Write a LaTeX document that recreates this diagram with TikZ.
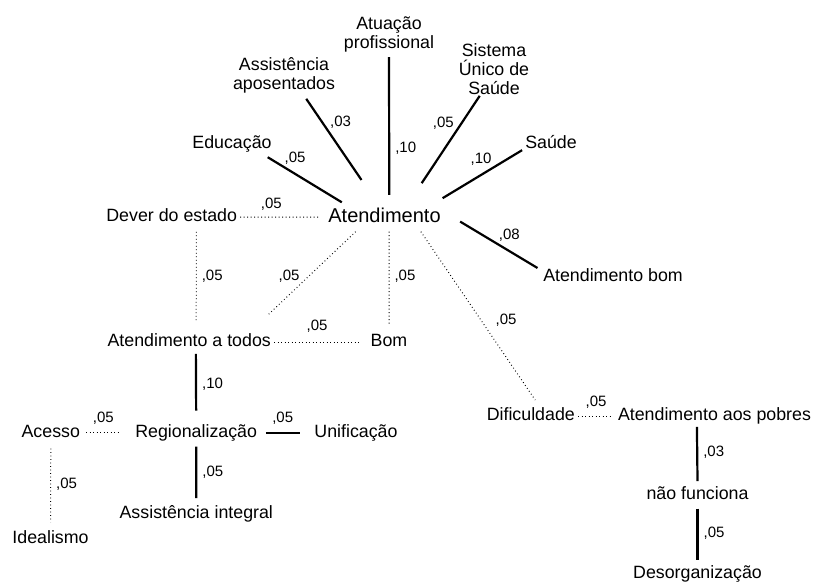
\documentclass[tikz,border=0pt]{standalone}
\usepackage{fontspec}
\setmainfont{Liberation Sans}

\begin{document}
\begin{tikzpicture}[x=1pt, y=-1pt,
    termo/.style={font=\fontsize{17.8}{18.5}\selectfont, inner xsep=3pt, inner ysep=5pt, text height=13pt, text depth=4pt, anchor=base},
    bloco/.style={font=\fontsize{17.8}{19}\selectfont, inner xsep=3pt, inner ysep=5pt, align=center, anchor=south},
    nucleo/.style={font=\fontsize{20}{22}\selectfont, inner xsep=3pt, inner ysep=5pt, text height=14.5pt, text depth=4.5pt, anchor=base},
    forte/.style={line width=2.2pt},
    fraca/.style={line width=1pt, dash pattern=on 0.8pt off 2.7pt},
    peso/.style={font=\fontsize{15}{16}\selectfont, inner sep=1pt}]
    \useasboundingbox (0,0) rectangle (813,582);

    \node[nucleo] (aten) at (384.5,222) {Atendimento};
    \node[bloco] (atua) at (389,57) {Atuação\\profissional};
    \node[bloco] (asap) at (284,98.8) {Assistência\\aposentados};
    \node[bloco] (sus) at (494,100) {Sistema\\Único de\\Saúde};
    \node[termo] (edu) at (232,148) {Educação};
    \node[termo] (saude) at (551,148) {Saúde};
    \node[termo] (dever) at (171.7,221.7) {Dever do estado};
    \node[termo] (abom) at (613,281.7) {Atendimento bom};
    \node[termo] (todos) at (189.2,346.7) {Atendimento a todos};
    \node[termo] (bom) at (389,346.7) {Bom};
    \node[termo] (dific) at (530.8,420.7) {Dificuldade};
    \node[termo] (pobres) at (714.5,420.7) {Atendimento aos pobres};
    \node[termo] (acesso) at (50.8,437.3) {Acesso};
    \node[termo] (reg) at (196.2,437.3) {Regionalização};
    \node[termo] (unif) at (356,437.3) {Unificação};
    \node[termo] (nfunc) at (697.5,499.3) {não funciona};
    \node[termo] (ainteg) at (196.3,518.3) {Assistência integral};
    \node[termo] (ideal) at (50.5,543.3) {Idealismo};
    \node[termo] (desorg) at (697.5,578.5) {Desorganização};

    \draw[forte] (edu.-21) -- node[peso, pos=.2, anchor=south west] {,05} (aten.161);
    \draw[forte, shorten >=27pt] (asap.-46) -- node[peso, pos=.31, anchor=south west] {,03} (aten.118);
    \draw[forte, shorten >=7.5pt] (atua.south) -- node[peso, pos=.625, right=4pt] {,10} (aten.72);
    \draw[forte, shorten <=-5pt, shorten >=23pt] (sus.-119) -- node[peso, pos=.31, anchor=south east] {,05} (aten.31);
    \draw[forte, shorten >=8pt] (saude.193) -- node[peso, pos=.33, anchor=south east] {,10} (aten.16);
    \draw[forte, shorten <=19pt, shorten >=3pt] (aten.5.5) -- node[peso, pos=.55, anchor=south west] {,08} (abom.174);

    \draw[fraca, shorten >=5pt] (dever) -- node[peso, pos=.366, above=5.5pt] {,05} (aten);
    \draw[fraca, shorten <=1pt, shorten >=8pt] (dever.-29) -- node[peso, pos=.46, right=4pt] {,05} (todos.63);
    \draw[fraca, shorten >=18.7pt] (aten.207) -- node[peso, pos=.535, anchor=south east] {,05} (todos.12);
    \draw[fraca, shorten >=5pt] (aten.-73) -- node[peso, pos=.46, right=4pt] {,05} (bom.north);
    \draw[fraca, shorten >=7pt] (todos) -- node[peso, pos=.46, above=8.7pt] {,05} (bom);
    \draw[fraca, shorten >=3pt] (aten.-22) -- node[peso, pos=.52, right=13pt] {,05} (dific.66);

    \draw[forte, shorten <=-2pt, shorten >=8.5pt] (todos.-64) -- node[peso, pos=.445, right=4pt] {,10} (reg.north);
    \draw[fraca, shorten <=3pt, shorten >=13.7pt] (acesso) -- node[peso, pos=.41, above=6.5pt] {,05} (reg);
    \draw[forte, shorten <=5.7pt, shorten >=11.3pt] (reg) -- node[peso, pos=.44, above=6.5pt] {,05} (unif);
    \draw[forte, shorten >=2pt] (reg.south) -- node[peso, pos=.485, right=4pt] {,05} (ainteg.north);
    \draw[fraca, shorten <=2pt, shorten >=3pt] (acesso.south) -- node[peso, pos=.477, right=4pt] {,05} (ideal.north);

    \draw[fraca, shorten >=3.6pt] (dific) -- node[peso, pos=.49, above=6pt] {,05} (pobres);
    \draw[forte, shorten <=-3pt] (pobres.-142) -- node[peso, pos=.44, right=4pt] {,03} (nfunc.north);
    \draw[forte] (nfunc.south) -- node[peso, pos=.48, right=4pt] {,05} (desorg.north);
\end{tikzpicture}
\end{document}
